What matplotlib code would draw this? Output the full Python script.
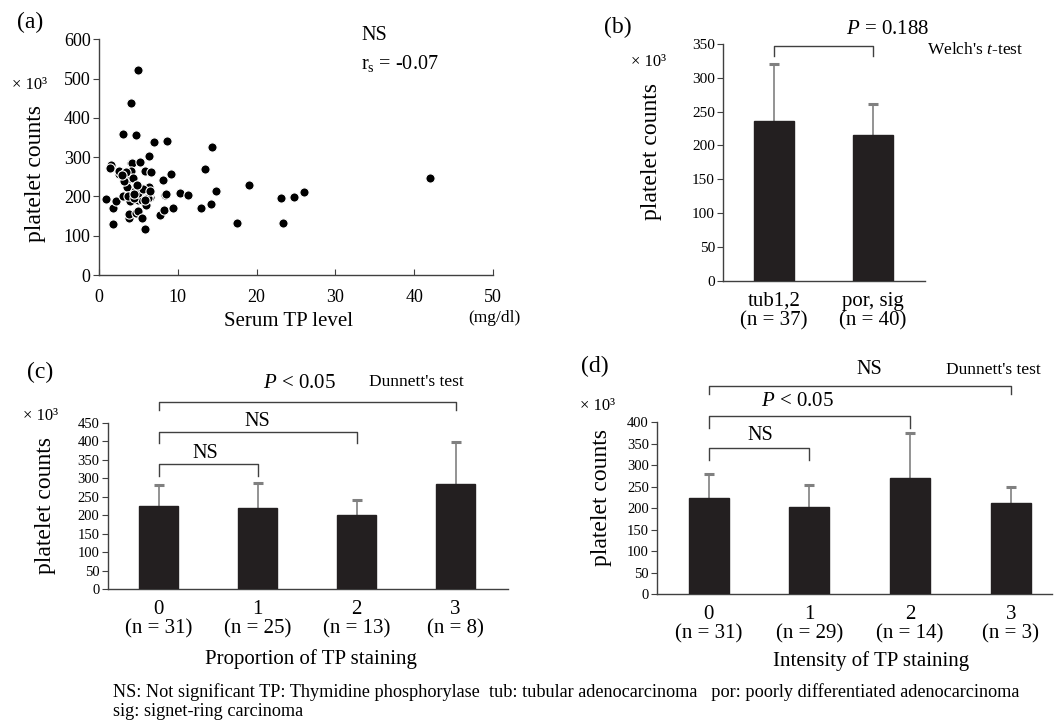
import matplotlib
matplotlib.use("Agg")
import matplotlib.pyplot as plt

plt.rcParams["font.family"] = ["Liberation Serif", "DejaVu Serif"]
plt.rcParams["mathtext.fontset"] = "custom"
plt.rcParams["mathtext.rm"] = "Liberation Serif"
plt.rcParams["mathtext.it"] = "Liberation Serif:italic"

# (a) serum TP level vs platelet counts (x10^3)
tp_level = [0.85, 1.5, 1.45, 1.75, 1.8, 2.2, 2.5, 2.5, 3.0, 3.0, 3.3, 3.5, 3.6, 3.8, 3.8,
            3.9, 3.9, 4.0, 4.1, 4.2, 4.0, 4.3, 4.7, 4.7, 4.9, 4.9, 4.9, 5.1, 5.1, 5.2,
            5.5, 5.5, 5.8, 5.8, 6.0, 6.3, 6.4, 6.5, 6.6, 7.0, 6.3, 7.7, 8.1, 8.2, 8.4,
            8.5, 8.6, 9.2, 9.4, 10.3, 11.3, 13.0, 13.4, 14.2, 14.4, 14.8, 17.5, 19.0,
            23.1, 23.3, 24.8, 26.0, 42.0, 3.7, 4.5, 4.6, 5.3, 5.0, 6.2, 3.4, 5.6, 4.4,
            6.5, 3.2, 4.8, 5.9, 2.9]
platelet = [193, 281, 272, 130, 171, 189, 256, 265, 360, 200, 259, 242, 225, 146, 156,
            199, 189, 285, 439, 286, 266, 248, 356, 157, 162, 190, 522, 207, 224, 287,
            190, 146, 266, 117, 178, 224, 303, 199, 261, 339, 207, 152, 241, 166, 203,
            205, 342, 257, 170, 209, 203, 171, 270, 182, 325, 214, 133, 228,
            196, 132, 198, 212, 248, 200, 195, 215, 220, 210, 195, 262, 218, 205,
            215, 240, 228, 190, 255]

# (b) histology
hist_labels = ["tub1,2\n(n = 37)", "por, sig\n(n = 40)"]
hist_mean = [236, 215]
hist_sd = [85, 46]

# (c) proportion of TP staining
prop_labels = ["0\n(n = 31)", "1\n(n = 25)", "2\n(n = 13)", "3\n(n = 8)"]
prop_mean = [224, 219, 201, 284]
prop_sd = [57, 69, 41, 114]

# (d) intensity of TP staining
inten_labels = ["0\n(n = 31)", "1\n(n = 29)", "2\n(n = 14)", "3\n(n = 3)"]
inten_mean = [224, 204, 271, 212]
inten_sd = [56, 51, 104, 38]

# brackets: (from, to, top, leg end)
brk_b = [(0, 1, 347, 332)]
brk_c = [(0, 1, 338, 307), (0, 2, 425, 395), (0, 3, 508, 485)]
brk_d = [(0, 1, 340, 312), (0, 2, 414, 387), (0, 3, 484, 465)]

W, H = 1059, 721
fig = plt.figure(figsize=(W / 100, H / 100), dpi=100)


def axes_px(x0, y0, x1, y1):
    return fig.add_axes([x0 / W, 1 - y1 / H, (x1 - x0) / W, (y1 - y0) / H])


def txt(x, y, s, size, **kw):
    fig.text(x / W, 1 - y / H, s, fontsize=size, ha=kw.pop("ha", "center"),
             va=kw.pop("va", "center"), **kw)


def style(ax):
    for side in ["top", "right"]:
        ax.spines[side].set_visible(False)
    for side in ["left", "bottom"]:
        ax.spines[side].set_color("#404040")
        ax.spines[side].set_linewidth(1.0)


def bars(ax, means, sds, labels, tick_size):
    xs = list(range(len(means)))
    # symmetric error bar drawn behind the bar, so only the upper half shows
    ax.errorbar(xs, means, yerr=sds, fmt="none", ecolor="#808080",
                elinewidth=1.2, capsize=3.5, capthick=2.2, zorder=2)
    ax.bar(xs, means, width=0.4, color="#231f20", edgecolor="#231f20", zorder=3)
    ax.set_xticks(xs)
    ax.set_xticklabels(labels, fontsize=15, linespacing=1.0)
    ax.tick_params(axis="x", length=0, pad=8)
    ax.tick_params(axis="y", labelsize=tick_size, direction="out", length=4,
                   color="#404040", pad=2)
    style(ax)


def brackets(ax, items):
    for a, b, top, end in items:
        ax.plot([a, a, b, b], [end, top, top, end], color="#404040", lw=1.0,
                clip_on=False, zorder=4)


# ---- (a)
ax = axes_px(99, 39.3, 493, 275)
ax.scatter(tp_level, platelet, s=44, color="black", edgecolors="white",
           linewidths=0.8, zorder=3, clip_on=False)
ax.set_xlim(0, 50)
ax.set_ylim(0, 600)
ax.set_xticks(range(0, 51, 10))
ax.set_yticks(range(0, 601, 100))
ax.tick_params(axis="x", direction="in", length=4, labelsize=13, pad=10, color="#404040")
ax.tick_params(axis="y", direction="out", length=4, labelsize=13, pad=2, color="#404040")
style(ax)
txt(30, 22, "(a)", 17)
txt(361, 35, "NS", 14.5, ha="left")
txt(361, 63, r"r$_{\rm s}$ = -0.07", 14.5, ha="left")
txt(30, 85, "× 10³", 12)
txt(36, 173, "platelet counts", 17, rotation=90)
txt(288, 321, "Serum TP level", 15)
txt(494, 318, "(mg/dl)", 12.5)

# ---- (b)
ax = axes_px(723.3, 44, 925, 280.7)
bars(ax, hist_mean, hist_sd, hist_labels, 11)
ax.set_xlim(-0.515, 1.525)
ax.set_ylim(0, 350)
ax.set_yticks(range(0, 351, 50))
brackets(ax, brk_b)
txt(618, 27, "(b)", 17)
txt(649, 62, "× 10³", 12)
txt(652, 152, "platelet counts", 17, rotation=90)
txt(888, 30, r"$P$ = 0.188", 15)
txt(975, 50, r"Welch's $t$-test", 12.5)

# ---- (c)
ax = axes_px(107.7, 423, 508, 589)
bars(ax, prop_mean, prop_sd, prop_labels, 10.5)
ax.set_xlim(-0.515, 3.53)
ax.set_ylim(0, 450)
ax.set_yticks(range(0, 451, 50))
brackets(ax, brk_c)
txt(40, 372, "(c)", 17)
txt(41, 416, "× 10³", 12)
txt(46, 505, "platelet counts", 17, rotation=90)
txt(205.5, 453.5, "NS", 14.5)
txt(257, 421.5, "NS", 14.5)
txt(299, 384, r"$P$ < 0.05", 15)
txt(416, 382, "Dunnett's test", 12.5)
txt(311, 659, "Proportion of TP staining", 15)

# ---- (d)
ax = axes_px(657.3, 422.3, 1052, 594.3)
bars(ax, inten_mean, inten_sd, inten_labels, 10.5)
ax.set_xlim(-0.51, 3.41)
ax.set_ylim(0, 400)
ax.set_yticks(range(0, 401, 50))
brackets(ax, brk_d)
txt(595, 366, "(d)", 17)
txt(598, 406, "× 10³", 12)
txt(602, 497, "platelet counts", 17, rotation=90)
txt(760, 436, "NS", 14.5)
txt(797, 402, r"$P$ < 0.05", 15)
txt(869.5, 369, "NS", 14.5)
txt(993, 370, "Dunnett's test", 12.5)
txt(871, 661, "Intensity of TP staining", 15)

# footer
txt(113, 692, "NS: Not significant TP: Thymidine phosphorylase  tub: tubular adenocarcinoma"
    "   por: poorly differentiated adenocarcinoma", 13.15, ha="left")
txt(113, 711, "sig: signet-ring carcinoma", 13.15, ha="left")

fig.savefig("out.png", dpi=100)
